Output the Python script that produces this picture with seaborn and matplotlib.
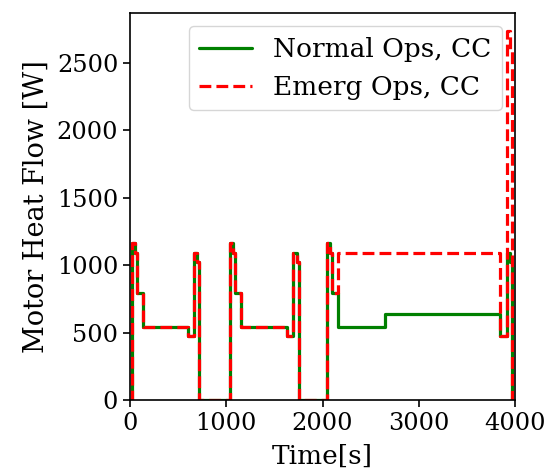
import numpy as np
import pandas as pd
import matplotlib
matplotlib.use("Agg")
import matplotlib.pyplot as plt
import seaborn as sns

# step-change times [s] and heat flow values [W] (steps-post)
normal_time = [0, 18, 51, 68, 130, 607, 662, 697, 720,
               1038, 1073, 1090, 1150, 1628, 1695, 1737, 1756,
               2050, 2082, 2099, 2161, 2646, 3841, 3912, 3950, 3965]
normal_flow = [0, 1164, 1095, 797, 547, 478, 1095, 1024, 0,
               1164, 1095, 797, 547, 478, 1095, 1024, 0,
               1164, 1095, 797, 547, 638, 478, 1095, 1024, 0]

emerg_time = [0, 18, 51, 68, 130, 607, 662, 697, 720,
              1038, 1073, 1090, 1150, 1628, 1695, 1737, 1756,
              2050, 2082, 2099, 2161, 3841, 3915, 3948, 3965]
emerg_flow = [0, 1164, 1095, 797, 547, 478, 1095, 1024, 0,
              1164, 1095, 797, 547, 478, 1095, 1024, 0,
              1164, 1095, 797, 1095, 478, 2735, 2600, 0]

series_labels = ["Normal Ops, CC", "Emerg Ops, CC"]
x_ticks = [0, 1000, 2000, 3000, 4000]
y_ticks = [0, 500, 1000, 1500, 2000, 2500]

sns.set_theme(style="ticks")
plt.rcParams["font.family"] = ["DejaVu Serif"]
plt.rcParams["font.size"] = 16
plt.rcParams["text.color"] = "black"
plt.rcParams["axes.labelcolor"] = "black"

fig = plt.figure(figsize=(5.47, 4.71), dpi=100)
ax = fig.add_axes([0.2377, 0.1497, 0.9415 - 0.2377, 0.9724 - 0.1497])

df_n = pd.DataFrame({"t": normal_time, "q": normal_flow})
df_e = pd.DataFrame({"t": emerg_time, "q": emerg_flow})

sns.lineplot(data=df_n, x="t", y="q", ax=ax, color="green", lw=2.3,
             drawstyle="steps-post", sort=False, estimator=None,
             label=series_labels[0])
sns.lineplot(data=df_e, x="t", y="q", ax=ax, color="red", lw=2.3,
             linestyle="--", drawstyle="steps-post", sort=False, estimator=None,
             label=series_labels[1])

ax.set_xlim(0, 4000)
ax.set_ylim(0, 2870)
ax.set_xticks(x_ticks)
ax.set_yticks(y_ticks)
ax.tick_params(axis="both", labelsize=17.3, length=5, width=1.2, color="black",
               direction="out", labelcolor="black")
for s in ax.spines.values():
    s.set_visible(True)
    s.set_color("black")
    s.set_linewidth(1.2)
ax.set_xlabel("Time[s]", fontsize=19, color="black", labelpad=6)
ax.set_ylabel("Motor Heat Flow [W]", fontsize=19.5, color="black", labelpad=5)
leg = ax.legend(loc="upper right", fontsize=19, frameon=True, framealpha=0.8,
                edgecolor="0.8", fancybox=True, handlelength=2.0)
for t in leg.get_texts():
    t.set_color("black")
leg.get_frame().set_linewidth(1.0)

fig.savefig("out.png", dpi=100)
